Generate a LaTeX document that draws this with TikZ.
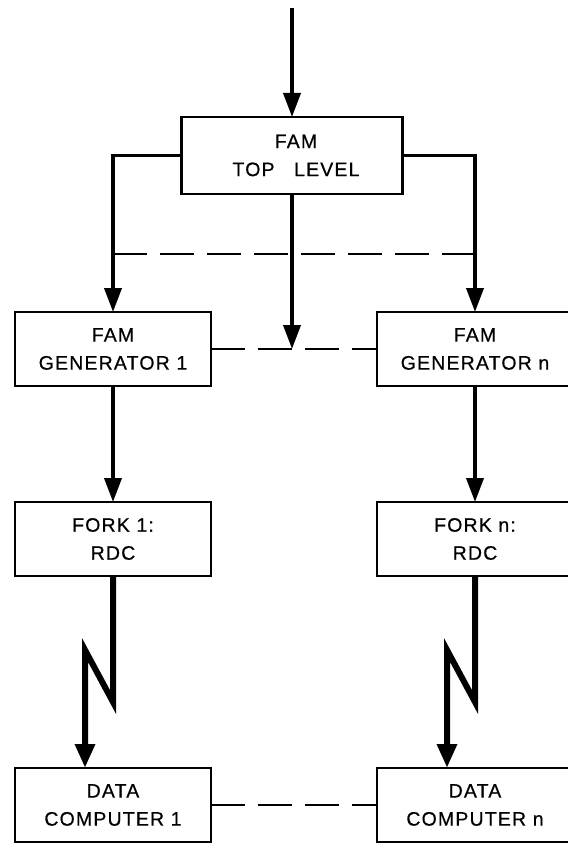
\documentclass[tikz,border=0pt]{standalone}
\usepackage{fontspec}
\setmainfont{Liberation Sans}[LetterSpace=6,FakeBold=0.6]
\usetikzlibrary{arrows.meta,positioning}

\begin{document}
\begin{tikzpicture}[
  x=1pt, y=-1pt,
  blk/.style={rectangle, draw, line width=2.8pt, minimum width=196pt,
              minimum height=74pt, inner sep=0pt, outer sep=0pt,
              align=center, font=\fontsize{19.5}{28}\selectfont},
  arr/.style={draw,-{Triangle[length=24pt,width=17pt]},line width=3.8pt},
  zzarr/.style={draw,-{Triangle[length=24pt,width=19pt]},line width=6pt},
  dasharr/.style={draw,line width=2.8pt,dash pattern=on 34pt off 13pt},
  node distance=116pt and 166pt
]
\useasboundingbox (0,0) rectangle (567,845);
\node[blk, minimum width=221pt, minimum height=77pt] (top) at (292,155.5)
  {\hspace*{8pt}FAM\\\hspace*{8pt}TOP\quad LEVEL};
\node[blk] (gen1) at (113,349) {FAM\\GENERATOR 1};
\node[blk, right=of gen1] (genn) {FAM\\GENERATOR n};
\node[blk, below=of gen1] (fork1) {FORK 1:\\RDC};
\node[blk, below=of genn] (forkn) {FORK n:\\RDC};
\node[blk, below=192pt of fork1] (dc1) {DATA\\COMPUTER 1};
\node[blk, below=192pt of forkn] (dcn) {DATA\\COMPUTER n};
% Input
\coordinate (in) at (292,8);
\draw[arr] (in) -- (top);
% Branches
\draw[arr] (top.west) -| (gen1.north);
\draw[arr] (top.east) -| (genn.north);
\coordinate (mid) at (top.south |- gen1.east);
\draw[arr] (top.south) -- (mid);
% Dashed links
\path (gen1.north) ++(0,-58) coordinate (d1);
\draw[dasharr] (d1) -- (d1 -| genn.north);
\draw[dasharr] (gen1) -- (genn);
\draw[dasharr] (dc1) -- (dcn);
% Forks
\draw[arr] (gen1) -- (fork1);
\draw[arr] (genn) -- (forkn);
% Radio links
\draw[zzarr] (fork1.south) -- ++(0,126) -- ++(-28,-52) coordinate (k1)
  -- (k1 |- dc1.north);
\draw[zzarr] (forkn.south) -- ++(0,126) -- ++(-28,-52) coordinate (kn)
  -- (kn |- dcn.north);
\end{tikzpicture}
\end{document}
